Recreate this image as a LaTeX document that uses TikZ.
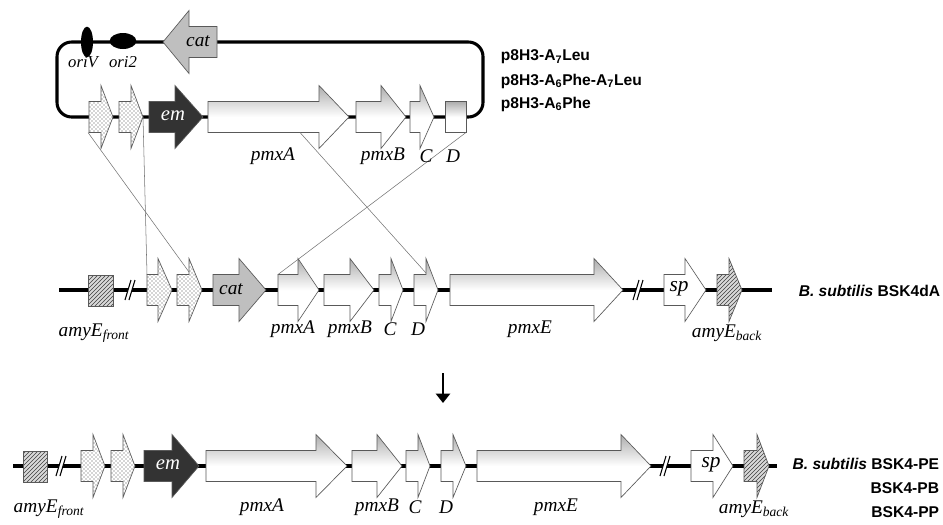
\documentclass[tikz,border=0pt]{standalone}
\usepackage{fontspec}
\setmainfont{Liberation Serif}
\newfontfamily\labelsans{Liberation Sans}
\usetikzlibrary{patterns,shapes.geometric,arrows.meta}

% gene arrow: style, body start, head base, tip, row y
\newcommand{\genearrow}[5]{%
  \draw[#1] (#2,#5-15.5) -- (#3,#5-15.5) -- (#3,#5-31.5) -- (#4,#5) -- (#3,#5+31.5) -- (#3,#5+15.5) -- (#2,#5+15.5) -- cycle;}
% break mark on the chromosome line: x, y
\newcommand{\dnabreak}[2]{%
  \fill[white] (#1-5,#2+10) -- (#1+1,#2-10) -- (#1+5,#2-10) -- (#1-1,#2+10) -- cycle;
  \draw[line width=0.8pt] (#1-5,#2+10) -- (#1+1,#2-10) (#1-1,#2+10) -- (#1+5,#2-10);}

\tikzset{
  dnaline/.style={line width=2.3pt},
  genebox/.style={draw=black!65, line width=0.5pt},
  shadegene/.style={genebox, top color=gray!65, bottom color=white, middle color=white},
  dotgene/.style={genebox, preaction={fill=white}, pattern=crosshatch dots, pattern color=black!70},
  hatchgene/.style={genebox, preaction={fill=gray!30}, pattern=north east lines, pattern color=black!75},
  catgene/.style={genebox, fill=black!25},
  emgene/.style={genebox, fill=black!80},
  spgene/.style={genebox, fill=white},
  orimark/.style={ellipse, fill=black, inner sep=0pt},
  linkline/.style={draw=black!55, line width=0.4pt},
  genelabel/.style={inner sep=0.5pt, font=\fontsize{14.5}{16}\selectfont\itshape},
  orilabel/.style={inner sep=0.5pt, font=\fontsize{12.5}{14}\selectfont\itshape},
  strainlabel/.style={inner sep=0.5pt, font=\fontsize{11.7}{14}\selectfont\labelsans\bfseries}
}

\begin{document}
\begin{tikzpicture}[x=0.75pt,y=0.75pt,yscale=-1,xscale=1]
\useasboundingbox (0,0) rectangle (943,525);

%Plasmid loop
\draw[dnaline, rounded corners=11pt] (57,42) rectangle (483,117);
\node[orimark, minimum width=9pt, minimum height=23pt] (oriV) at (87,42) {};
\node[orimark, minimum width=20pt, minimum height=12pt] (ori2) at (123,41) {};
\genearrow{catgene}{217}{189}{163}{42}
\genearrow{dotgene}{89}{101}{113}{117}
\genearrow{dotgene}{119}{131}{143}{117}
\genearrow{emgene}{149}{175}{203}{117}
\genearrow{shadegene}{208}{319}{349}{117}
\genearrow{shadegene}{356}{381}{406}{117}
\genearrow{shadegene}{410}{420}{434}{117}
\draw[shadegene] (445,101.5) rectangle (466,132.5);

%Chromosome BSK4dA
\draw[dnaline] (59,290) -- (772,290);
\dnabreak{130}{290}
\dnabreak{638}{290}
\draw[hatchgene] (88,275) rectangle (113,306);
\genearrow{dotgene}{147}{158}{172}{290}
\genearrow{dotgene}{177}{189}{202}{290}
\genearrow{catgene}{213}{239}{266}{290}
\genearrow{shadegene}{278}{298}{319}{290}
\genearrow{shadegene}{324}{350}{374}{290}
\genearrow{shadegene}{379}{391}{403}{290}
\genearrow{shadegene}{414}{426}{438}{290}
\genearrow{shadegene}{450}{594}{623}{290}
\genearrow{spgene}{664}{685}{706}{290}
\genearrow{hatchgene}{717}{729}{742}{290}

%Chromosome BSK4-PE/PB/PP
\draw[dnaline] (13,466) -- (777,466);
\dnabreak{61}{466}
\dnabreak{665}{466}
\draw[hatchgene] (23,451) rectangle (47,482);
\genearrow{dotgene}{81}{93}{105}{466}
\genearrow{dotgene}{111}{123}{135}{466}
\genearrow{emgene}{144}{172}{199}{466}
\genearrow{shadegene}{206}{316}{347}{466}
\genearrow{shadegene}{352}{377}{402}{466}
\genearrow{shadegene}{406}{418}{430}{466}
\genearrow{shadegene}{441}{453}{466}{466}
\genearrow{shadegene}{477}{621}{651}{466}
\genearrow{spgene}{691}{713}{733}{466}
\genearrow{hatchgene}{744}{757}{769}{466}

%Crossover points
\coordinate (pDotA) at (88,132.5);
\coordinate (pDotB) at (143,117);
\coordinate (pPmxA) at (300,132.5);
\coordinate (pD) at (466,132.5);
\coordinate (mDotA) at (147,274.5);
\coordinate (mDotB) at (189,272);
\coordinate (mPmxA) at (278,274.5);
\coordinate (mD) at (426,273);
\draw[linkline] (pDotA) -- (mDotB);
\draw[linkline] (pDotB) -- (mDotA);
\draw[linkline] (pPmxA) -- (mD);
\draw[linkline] (pD) -- (mPmxA);

%Integration arrow
\coordinate (stepTop) at (443,373);
\coordinate (stepEnd) at (443,403);
\draw[line width=2.2pt, -{Triangle[width=10.5pt,length=7pt]}] (stepTop) -- (stepEnd);

% Text Node
\node[orilabel] (oriVlab) at (83,62) {oriV};
\node[orilabel] (ori2lab) at (123,62) {ori2};
\node[genelabel] (pCatlab) at (198,41) {cat};
\node[genelabel, text=white, font=\fontsize{15.5}{17}\selectfont\itshape] (pEmlab) at (173,116) {em};
\node[genelabel] (pPmxAlab) at (273,156) {pmxA};
\node[genelabel] (pPmxBlab) at (383,156) {pmxB};
\node[genelabel] (pClab) at (426,156) {C};
\node[genelabel] (pDlab) at (453,156) {D};
\node[strainlabel, anchor=west] (plasA) at (500,57) {p8H3-A\textsubscript{7}Leu};
\node[strainlabel, anchor=west] (plasB) at (500,81) {p8H3-A\textsubscript{6}Phe-A\textsubscript{7}Leu};
\node[strainlabel, anchor=west] (plasC) at (500,104) {p8H3-A\textsubscript{6}Phe};

\node[genelabel] (mFrontlab) at (94,333) {amyE\textsubscript{front}};
\node[genelabel] (mCatlab) at (231,289) {cat};
\node[genelabel] (mPmxAlab) at (293,329) {pmxA};
\node[genelabel] (mPmxBlab) at (350,329) {pmxB};
\node[genelabel] (mClab) at (390,329) {C};
\node[genelabel] (mDlab) at (418,329) {D};
\node[genelabel] (mPmxElab) at (530,329) {pmxE};
\node[genelabel, font=\fontsize{16}{17}\selectfont\itshape] (mSplab) at (679,289) {sp};
\node[genelabel] (mBacklab) at (727,333) {amyE\textsubscript{back}};
\node[strainlabel, anchor=east] (strainDA) at (941,291) {\textit{B. subtilis} BSK4dA};

\node[genelabel] (bFrontlab) at (49,509) {amyE\textsubscript{front}};
\node[genelabel, text=white, font=\fontsize{15.5}{17}\selectfont\itshape] (bEmlab) at (168,465) {em};
\node[genelabel] (bPmxAlab) at (262,507) {pmxA};
\node[genelabel] (bPmxBlab) at (377,507) {pmxB};
\node[genelabel] (bClab) at (415,507) {C};
\node[genelabel] (bDlab) at (446,507) {D};
\node[genelabel] (bPmxElab) at (556,507) {pmxE};
\node[genelabel, font=\fontsize{16}{17}\selectfont\itshape] (bSplab) at (711,465) {sp};
\node[genelabel] (bBacklab) at (754,509) {amyE\textsubscript{back}};
\node[strainlabel, anchor=east] (strainPE) at (940,464) {\textit{B. subtilis} BSK4-PE};
\node[strainlabel, anchor=east] (strainPB) at (940,488) {BSK4-PB};
\node[strainlabel, anchor=east] (strainPP) at (940,512) {BSK4-PP};
\end{tikzpicture}
\end{document}
